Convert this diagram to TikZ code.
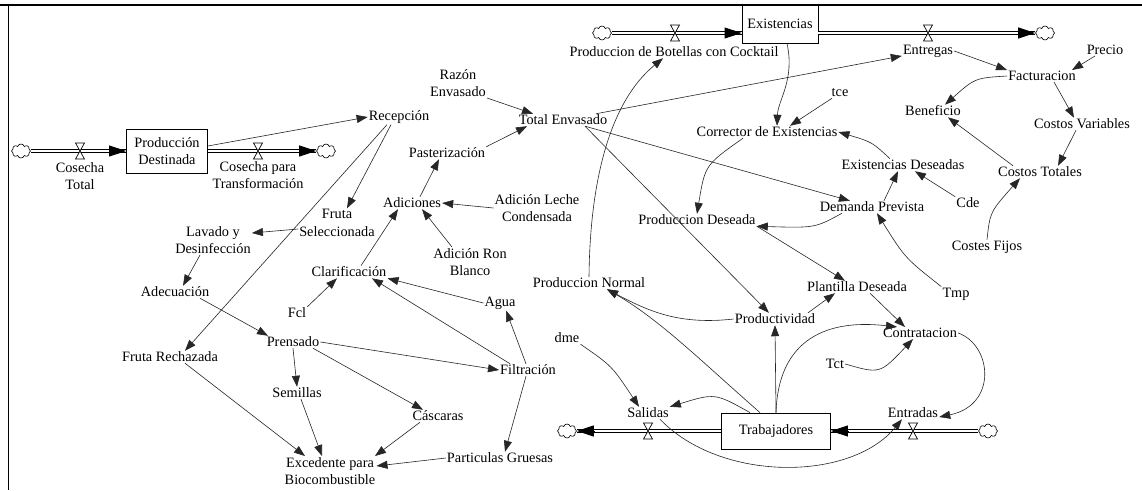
\documentclass[tikz,border=0pt]{standalone}
\usepackage{fontspec}
\setmainfont{Liberation Serif}
\usetikzlibrary{arrows.meta,shapes.symbols,calc}
\tikzset{
 v/.style={font=\fontsize{14.3}{17.5}\selectfont, inner sep=1pt, align=center, text=black},
 stock/.style={v, draw, line width=0.8pt, fill=white, inner sep=0pt},
 lk/.style={draw=black!85, line width=0.6pt, -{Triangle[length=11pt,width=8pt]}},
 pipe/.style={draw=white, line width=2.8pt, preaction={draw=black, line width=4.6pt}},
 ptip/.style={draw=black, line width=0.8pt, -{Triangle[length=17pt,width=11pt]}},
 cld/.style={cloud, cloud puffs=8, draw, line width=0.6pt, minimum width=19pt, minimum height=14pt, inner sep=0pt, aspect=1.4, fill=white},
 valve/.pic={\filldraw[fill=white, line width=0.7pt] (-4.5,-8) -- (4.5,-8) -- (-4.5,8) -- (4.5,8) -- cycle;}
}
\begin{document}
\begin{tikzpicture}[x=1pt,y=-1pt]
\useasboundingbox (0,0) rectangle (1142,490);
\fill[white] (0,0) rectangle (1142,490);
% frame
\draw[line width=2.5pt] (0,5) -- (1142,5);
\draw[line width=1pt] (8,5) -- (8,490);

% stocks
\node[stock, minimum width=81pt, minimum height=44pt] (pd) at (167,151) {Producción\\Destinada};
\node[stock, minimum width=76pt, minimum height=38pt] (exist) at (780,24) {Existencias};
\node[stock, minimum width=109pt, minimum height=36pt] (trab) at (776,431) {Trabajadores};

% clouds
\node[cld] (cl1) at (21,151) {};
\node[cld] (cl2) at (326,151) {};
\node[cld] (cl3) at (602,33) {};
\node[cld] (cl4) at (1045,33) {};
\node[cld] (cl5) at (567,431) {};
\node[cld] (cl6) at (988,431) {};

% variables
\node[v] (ct) at (80,176) {Cosecha\\Total};
\node[v] (cpt) at (258,175) {Cosecha para\\Transformación};
\node[v] (rec) at (399,117) {Recepción};
\node[v] (raz) at (458,83) {Razón\\Envasado};
\node[v] (te) at (563,120) {Total Envasado};
\node[v] (past) at (447,153) {Pasterización};
\node[v] (adic) at (412,203) {Adiciones};
\node[v] (alc) at (537,208) {Adición Leche\\Condensada};
\node[v] (arb) at (470,262) {Adición Ron\\Blanco};
\node[v] (fs) at (337,223) {Fruta\\Seleccionada};
\node[v] (lav) at (213,240) {Lavado y\\Desinfección};
\node[v] (adec) at (175,292) {Adecuación};
\node[v] (fr) at (170,357) {Fruta Rechazada};
\node[v] (clar) at (349,272) {Clarificación};
\node[v] (fcl) at (297,313) {Fcl};
\node[v] (agua) at (500,303) {Agua};
\node[v] (filt) at (528,370) {Filtración};
\node[v] (pren) at (293,342) {Prensado};
\node[v] (sem) at (297,393) {Semillas};
\node[v] (casc) at (438,416) {Cáscaras};
\node[v] (exc) at (330,471) {Excedente para\\Biocombustible};
\node[v] (pg) at (500,458) {Particulas Gruesas};

\node[v] (pbc) at (674,52) {Produccion de Botellas con Cocktail};
\node[v] (ent) at (928,51) {Entregas};
\node[v] (prec) at (1105,50) {Precio};
\node[v] (fact) at (1042,76) {Facturacion};
\node[v] (ben) at (933,111) {Beneficio};
\node[v] (cv) at (1082,124) {Costos Variables};
\node[v] (ctot) at (1040,172) {Costos Totales};
\node[v] (cf) at (987,247) {Costes Fijos};
\node[v] (cde) at (968,203) {Cde};
\node[v] (ed) at (903,165) {Existencias Deseadas};
\node[v] (dp) at (872,207) {Demanda Prevista};
\node[v] (tmp) at (956,294) {Tmp};
\node[v] (ce) at (767,132) {Corrector de Existencias};
\node[v] (tce) at (840,93) {tce};
\node[v] (pdes) at (697,220) {Produccion Deseada};
\node[v] (plan) at (857,287) {Plantilla Deseada};
\node[v] (prod) at (775,319) {Productividad};
\node[v] (pn) at (589,283) {Produccion Normal};
\node[v] (sal) at (648,413) {Salidas};
\node[v] (entr) at (913,413) {Entradas};
\node[v] (dme) at (567,338) {dme};
\node[v] (cont) at (920,333) {Contratacion};
\node[v] (tct) at (835,364) {Tct};

% pipes
\coordinate (e1) at (cl3 -| exist.west);
\coordinate (e2) at (cl4 -| exist.east);
\draw[pipe] (cl1) -- (pd);
\draw[ptip] ([xshift=-17pt]pd.west) -- (pd.west);
\draw[pipe] (pd) -- (cl2);
\draw[ptip] ([xshift=-17pt]cl2.west) -- (cl2.west);
\draw[pipe] (cl3) -- (e1);
\draw[ptip] ([xshift=-17pt]e1) -- (e1);
\draw[pipe] (e2) -- (cl4);
\draw[ptip] ([xshift=-17pt]cl4.west) -- (cl4.west);
\draw[pipe] (trab) -- (cl5);
\draw[ptip] ([xshift=17pt]cl5.east) -- (cl5.east);
\draw[pipe] (cl6) -- (trab);
\draw[ptip] ([xshift=17pt]trab.east) -- (trab.east);

% valves
\pic at (80,151) {valve};
\pic at (258,151) {valve};
\pic at (675,33) {valve};
\pic at (928,33) {valve};
\pic at (648,431) {valve};
\pic at (913,431) {valve};

% links, left part
\draw[lk] ([yshift=5pt]pd.east) -- (rec.west);
\draw[lk] (raz.south east) -- ([xshift=-30pt]te.north);
\draw[lk] (past.north east) -- ([xshift=-36pt]te.south);
\draw[lk] ([xshift=8pt]adic.north) -- ([xshift=-8pt]past.south);
\draw[lk] (alc.west) -- (adic.east);
\draw[lk] ([xshift=-18pt]arb.north) -- ([xshift=10pt]adic.south);
\draw[lk] ([xshift=-8pt]rec.south) -- ([xshift=10pt]fs.north);
\draw[lk] ([xshift=-12pt]rec.south) -- ([xshift=15pt]fr.north);
\draw[lk] ([yshift=-6pt]fs.west) -- ([yshift=7pt]lav.east);
\draw[lk] ([xshift=-13pt]lav.south) -- ([xshift=8pt]adec.north);
\draw[lk] ([xshift=25pt]adec.south) -- ([xshift=-25pt]pren.north);
\draw[lk] (fcl.north east) -- ([xshift=-12pt]clar.south);
\draw[lk] ([xshift=12pt]clar.north) -- ([xshift=-14pt]adic.south);
\draw[lk] (agua.west) -- (clar.south east);
\draw[lk] ([xshift=-18pt]filt.north) -- ([xshift=23pt]clar.south);
\draw[lk] ([xshift=-2pt]filt.north) -- ([xshift=6pt]agua.south);
\draw[lk] (pren.east) -- (filt.west);
\draw[lk] (pren.south) -- (sem.north);
\draw[lk] ([xshift=20pt]pren.south) -- ([xshift=-15pt]casc.north);
\draw[lk] ([xshift=15pt]fr.south) -- ([xshift=-25pt]exc.north);
\draw[lk] ([xshift=4pt]sem.south) -- ([xshift=-8pt]exc.north);
\draw[lk] ([xshift=-18pt]casc.south) -- ([xshift=45pt]exc.north);
\draw[lk] ([xshift=-2pt]filt.south) -- ([xshift=5pt]pg.north);
\draw[lk] (pg.west) -- ([yshift=5pt]exc.east);

% links, right part
\draw[lk] (te) -- (ent);
\draw[lk] (te) -- (dp);
\draw[lk] ([xshift=22pt]te.south) -- (prod);
\draw[lk] (ent.east) -- (fact.north west);
\draw[lk] ([xshift=-10pt]prec.south) -- ([xshift=30pt]fact.north);
\draw[lk] (fact.west) .. controls (975,78) .. ([xshift=12pt]ben.north);
\draw[lk] ([xshift=12pt]fact.south) -- ([xshift=-8pt]cv.north);
\draw[lk] ([xshift=-6pt]cv.south) -- ([xshift=18pt]ctot.north);
\draw[lk] ([xshift=-27pt]ctot.north) .. controls (985,145) .. ([xshift=15pt]ben.south);
\draw[lk] (cf.north) .. controls (990,212) .. ([xshift=-20pt]ctot.south);
\draw[lk] (cde.north west) -- ([xshift=12pt]ed.south);
\draw[lk] ([xshift=12pt]dp.north) -- ([xshift=-5pt]ed.south);
\draw[lk] (tmp.north west) .. controls (905,258) .. ([xshift=5pt]dp.south);
\draw[lk] ([xshift=-13pt]ed.north) .. controls (872,142) .. (ce.east);
\draw[lk] (tce) -- ([xshift=23pt]ce.north);
\draw[lk] ([xshift=7pt]exist.south) .. controls (795,80) and (778,100) .. ([xshift=10pt]ce.north);
\draw[lk] ([xshift=-24pt]ce.south) .. controls (705,165) .. (pdes.north);
\draw[lk] ([xshift=-30pt]dp.south) .. controls (815,228) .. (pdes.south east);
\draw[lk] (pdes.south east) -- ([xshift=-12pt]plan.north);
\draw[lk] ([xshift=33pt]prod.north) -- ([xshift=-22pt]plan.south);
\draw[lk] ([xshift=13pt]plan.south) -- ([xshift=-15pt]cont.north);
\draw[lk] (prod.west) .. controls (680,325) and (650,312) .. ([xshift=18pt]pn.south);
\draw[lk] ([xshift=-16pt]trab.north) .. controls (700,360) and (660,320) .. ([xshift=18pt]pn.south);
\draw[lk] (pn.north) .. controls (590,175) and (612,100) .. ([xshift=-11pt]pbc.south);
\draw[lk] (trab.north) -- (prod.south);
\draw[lk] (trab.north) .. controls (778,345) and (820,318) .. ([xshift=-23pt]cont.north);
\draw[lk] ([xshift=-26pt]trab.north) .. controls (715,393) .. (sal.north east);
\draw[lk] (dme.south east) .. controls (612,366) .. ([xshift=-9pt]sal.north);
\draw[lk] ([xshift=12pt]sal.south) .. controls (720,482) and (850,482) .. ([xshift=-11pt]entr.south);
\draw[lk] (tct.east) .. controls (880,374) .. ([xshift=-7pt]cont.south);
\draw[lk] (cont.east) .. controls (992,345) and (998,405) .. ([yshift=-4pt]entr.east);
\end{tikzpicture}
\end{document}
